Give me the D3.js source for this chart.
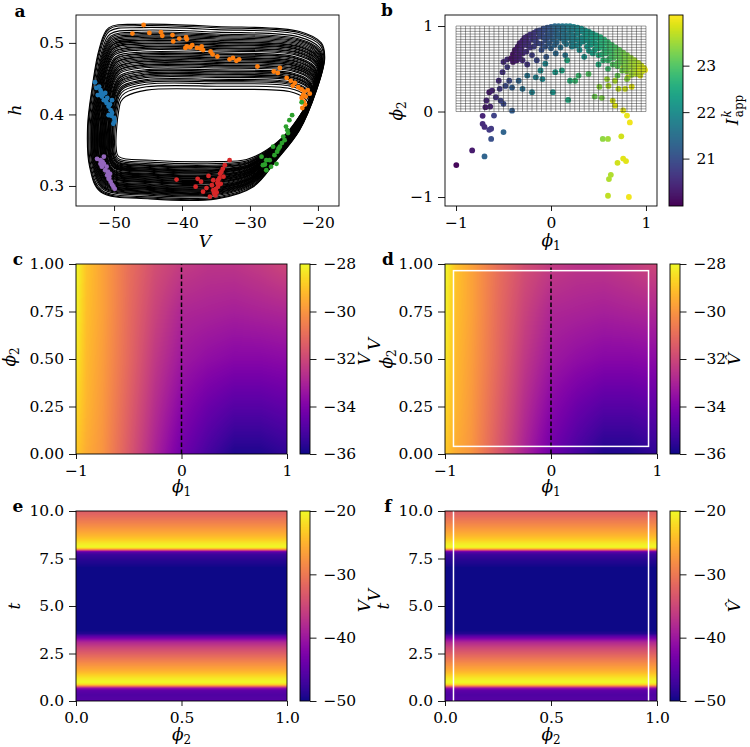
<!DOCTYPE html>
<html><head><meta charset="utf-8">
<script src="https://cdn.jsdelivr.net/npm/d3@7"></script>
<style>
body{margin:0;background:#fff}
svg{display:block}
</style></head><body>
<svg id="fig" width="750" height="747"></svg>
<script>
// ---------------- DATA ----------------
// Panel a: limit-cycle bundle (outer and inner guide loops) and per-loop weights
const aOuterV = [-50.8,-46.1,-34.9,-22.7,-19.5,-19.0,-20.2,-22.7,-26.1,-29.5,-34.9,-44.7,-52.0,-53.6,-53.9,-53.2,-52.2];
const aOuterH = [0.521,0.526,0.523,0.516,0.500,0.479,0.434,0.378,0.336,0.299,0.282,0.282,0.292,0.327,0.383,0.439,0.491];
const aInnerV = [-48.3,-45.2,-34.9,-24.2,-22.0,-21.5,-22.4,-24.6,-27.6,-30.5,-34.9,-44.7,-49.3,-49.7,-49.6,-49.3,-49.0];
const aInnerH = [0.425,0.434,0.435,0.432,0.423,0.416,0.402,0.374,0.350,0.337,0.334,0.336,0.341,0.355,0.383,0.406,0.418];
const aLoopWeights = [0,0.02,0.05,0.09,0.12,0.14,0.16,0.18,0.2,0.22,0.24,0.25,0.27,0.29,0.3,0.32,0.34,0.35,0.37,0.39,0.42,0.44,0.45,0.47,0.49,0.5,0.52,0.54,0.56,0.57,0.59,0.61,0.62,0.64,0.66,0.69,0.71,0.72,0.74,0.76,0.77,0.79,0.81,0.84,0.86,0.88,0.91,0.95,1.0];
// Panel a clusters [V, h]
const aOrange = [[-45.65,0.525],[-47.3,0.513],[-44.8,0.514],[-43.1,0.515],[-42.9,0.510],[-41.4,0.511],[-41.3,0.502],[-40.4,0.506],[-39.4,0.508],[-39.3,0.505],[-39.5,0.493],[-39.3,0.495],[-38.8,0.494],[-37.8,0.493],[-37.3,0.492],[-37.1,0.495],[-35.8,0.488],[-35.5,0.484],[-34.8,0.481],[-33.0,0.477],[-32.5,0.479],[-32.0,0.475],[-31.6,0.477],[-28.9,0.467],[-26.5,0.460],[-25.6,0.465],[-25.9,0.458],[-24.6,0.451],[-24.0,0.447],[-23.4,0.444],[-22.9,0.438],[-22.4,0.435],[-22.0,0.432],[-21.5,0.434],[-22.2,0.427],[-22.4,0.423],[-22.1,0.418],[-22.3,0.409],[-21.8,0.425],[-21.2,0.429],[-38.5,0.497],[-36.9,0.490],[-23.7,0.440],[-21.9,0.414]];
const aBlue = [[-52.8,0.445],[-52.6,0.437],[-52.2,0.439],[-52.0,0.434],[-52.4,0.427],[-51.8,0.425],[-51.5,0.420],[-51.0,0.423],[-50.3,0.420],[-51.1,0.416],[-50.8,0.411],[-50.5,0.406],[-50.3,0.402],[-50.8,0.399],[-50.0,0.395],[-50.1,0.387],[-49.95,0.390],[-52.0,0.427],[-51.3,0.430],[-51.6,0.428],[-50.6,0.414],[-51.9,0.431],[-50.4,0.398],[-51.2,0.419]];
const aPurple = [[-52.5,0.338],[-52.0,0.331],[-51.5,0.341],[-51.8,0.327],[-51.3,0.322],[-51.0,0.315],[-50.8,0.310],[-50.5,0.306],[-50.1,0.299],[-49.9,0.296],[-51.5,0.331],[-52.0,0.336],[-51.1,0.327],[-50.6,0.317],[-50.9,0.320],[-50.3,0.302],[-51.7,0.334],[-50.7,0.312]];
const aRed = [[-40.8,0.309],[-37.7,0.310],[-37.2,0.306],[-38.0,0.299],[-36.1,0.314],[-35.4,0.308],[-36.9,0.292],[-35.9,0.285],[-35.1,0.287],[-34.7,0.299],[-34.4,0.317],[-34.0,0.324],[-33.7,0.329],[-33.0,0.336],[-34.7,0.308],[-34.9,0.291],[-35.4,0.294],[-36.4,0.297],[-34.3,0.303],[-33.9,0.313],[-35.6,0.301],[-35.0,0.296],[-34.5,0.311],[-34.2,0.320],[-35.3,0.290],[-34.8,0.304]];
const aGreen = [[-28.3,0.341],[-28.1,0.329],[-27.6,0.322],[-27.1,0.336],[-26.4,0.343],[-26.1,0.331],[-25.6,0.355],[-24.9,0.364],[-24.4,0.374],[-23.8,0.399],[-24.2,0.392],[-24.7,0.383],[-25.1,0.369],[-26.6,0.355],[-27.6,0.336],[-22.4,0.417],[-26.9,0.327],[-25.3,0.360],[-27.8,0.330],[-26.0,0.348],[-25.8,0.352],[-24.5,0.378]];

// Panel b: [phi1, phi2, I_app]
const bScatter = [[-0.997,-0.626,20.05],[-0.83,-0.455,20.3],[-0.70,-0.525,21.3],[-0.63,-0.32,21.0],[-0.50,-0.24,21.3],[-0.72,-0.05,20.4],[-0.72,-0.144,20.5],[-0.70,-0.18,20.5],[-0.65,-0.214,20.7],[-0.63,-0.20,20.7],[-0.69,0.05,20.3],[-0.64,0.058,20.4],[-0.68,0.13,20.4],[-0.60,-0.047,20.8],[-0.65,0.226,20.3],[-0.62,0.245,20.4],[-0.58,0.167,20.6],[-0.53,0.128,20.8],[-0.50,0.09,20.9],[-0.41,0.01,21.2],[-0.54,0.265,20.7],[-0.55,0.36,20.5],[-0.48,0.30,20.9],[-0.41,0.28,21.2],[-0.44,0.36,20.9],[-0.51,0.46,20.6],[-0.46,0.52,20.7],[-0.50,0.58,20.5],[-0.46,0.61,20.5],[-0.34,0.36,21.3],[-0.30,0.265,21.5],[-0.25,0.42,21.6],[-0.20,0.226,21.8],[-0.16,0.40,21.8],[-0.11,0.48,22.0],[-0.09,0.38,21.9],[-0.06,0.56,21.9],[0.02,0.226,22.1],[0.045,0.46,22.2],[0.115,0.48,22.4],[0.18,0.136,22.5],[0.20,0.36,22.6],[0.255,0.36,22.8],[0.29,0.42,22.8],[0.17,0.60,22.5],[0.395,0.44,23.0],[0.46,0.175,23.2],[0.535,0.16,23.3],[0.51,0.29,23.4],[0.59,0.38,23.5],[0.605,0.30,23.6],[0.675,0.36,23.6],[0.71,0.265,23.7],[0.78,0.265,23.8],[0.85,0.29,23.9],[0.65,0.128,23.8],[0.675,0.07,23.9],[0.76,0.012,23.9],[0.80,-0.047,23.95],[0.83,-0.128,24.0],[0.545,-0.32,23.4],[0.60,-0.32,23.5],[0.74,-0.29,23.8],[0.76,-0.55,23.9],[0.79,-0.58,23.9],[0.70,-0.60,23.8],[0.63,-0.74,23.6],[0.61,-0.79,23.6],[0.60,-0.985,23.7],[0.82,-1.0,24.0],[0.99,0.486,24.0],[0.92,0.52,23.9],[0.94,0.42,23.9],[0.86,0.46,23.8],[0.81,0.40,23.8],[0.76,0.52,23.7]];
const bArch = [[-0.42,0.62,20.2],[-0.38,0.72,20.25],[-0.33,0.8,20.35],[-0.28,0.86,20.45],[-0.22,0.9,20.6],[-0.15,0.94,20.8],[-0.08,0.97,21.0],[0,0.99,21.25],[0.08,1.0,21.5],[0.16,1.0,21.7],[0.24,0.99,21.85],[0.32,0.97,22.05],[0.4,0.93,22.25],[0.48,0.89,22.45],[0.56,0.84,22.7],[0.64,0.78,22.9],[0.72,0.72,23.1],[0.8,0.66,23.35],[0.88,0.6,23.55],[0.95,0.54,23.75],
[-0.4,0.67,20.2],[-0.35,0.76,20.3],[-0.3,0.83,20.4],[-0.25,0.88,20.5],[-0.18,0.92,20.7],[-0.12,0.95,20.9],[-0.04,0.98,21.1],[0.04,1.0,21.4],[0.12,1.0,21.6],[0.2,1.0,21.8],[0.28,0.98,21.95],[0.36,0.95,22.15],[0.44,0.91,22.35],[0.52,0.87,22.6],[0.6,0.81,22.8],[0.68,0.75,23.0],[0.76,0.69,23.25],[0.84,0.63,23.45],[0.92,0.57,23.65],[0.98,0.51,23.85],
[-0.39,0.64,20.2],[-0.36,0.71,20.3],[-0.31,0.79,20.4],[-0.26,0.84,20.5],[-0.2,0.88,20.65],[-0.13,0.92,20.85],[-0.06,0.95,21.05],[0.02,0.96,21.3],[0.1,0.97,21.5],[0.18,0.97,21.75],[0.26,0.96,21.9],[0.34,0.93,22.1],[0.42,0.89,22.3],[0.5,0.85,22.5],[0.58,0.8,22.75],[0.66,0.74,22.95],[0.74,0.68,23.2],[0.82,0.62,23.4],[0.9,0.56,23.6],[0.97,0.5,23.85],
[-0.4,0.58,20.25],[-0.34,0.7,20.35],[-0.28,0.78,20.5],[-0.2,0.84,20.7],[-0.12,0.88,20.9],[-0.04,0.9,21.1],[0.04,0.92,21.35],[0.12,0.93,21.55],[0.2,0.93,21.75],[0.28,0.91,21.95],[0.36,0.88,22.15],[0.44,0.84,22.35],[0.52,0.8,22.6],[0.6,0.74,22.8],[0.68,0.69,23.05],[0.76,0.63,23.25],[0.84,0.57,23.45],[0.92,0.52,23.7],
[-0.37,0.64,20.3],[-0.31,0.73,20.45],[-0.24,0.8,20.6],[-0.16,0.85,20.8],[-0.08,0.87,21.0],[0.0,0.88,21.2],[0.08,0.9,21.45],[0.16,0.9,21.65],[0.24,0.89,21.85],[0.32,0.86,22.05],[0.4,0.82,22.25],[0.48,0.78,22.5],[0.56,0.73,22.7],[0.64,0.67,22.95],[0.72,0.62,23.15],[0.8,0.56,23.4],[0.88,0.51,23.6],[0.96,0.47,23.8],
[-0.36,0.6,20.3],[-0.3,0.68,20.45],[-0.22,0.75,20.65],[-0.14,0.8,20.85],[-0.06,0.83,21.05],[0.02,0.84,21.3],[0.1,0.86,21.5],[0.18,0.86,21.7],[0.26,0.84,21.9],[0.34,0.82,22.1],[0.42,0.78,22.3],[0.5,0.74,22.55],[0.58,0.68,22.8],[0.66,0.63,23.0],[0.74,0.57,23.2],[0.82,0.52,23.45],[0.9,0.47,23.65],
[-0.33,0.62,20.4],[-0.26,0.7,20.55],[-0.18,0.76,20.75],[-0.1,0.79,20.95],[-0.02,0.8,21.2],[0.06,0.81,21.4],[0.14,0.82,21.6],[0.22,0.81,21.8],[0.3,0.79,22.0],[0.38,0.76,22.2],[0.46,0.72,22.45],[0.54,0.67,22.7],[0.62,0.62,22.9],[0.7,0.57,23.1],[0.78,0.52,23.35],[0.86,0.47,23.55],[0.94,0.44,23.75],
[-0.3,0.6,20.5],[-0.2,0.66,20.75],[-0.1,0.72,21.0],[0.0,0.74,21.25],[0.1,0.75,21.5],[0.22,0.76,21.8],[0.3,0.72,22.0],[0.44,0.68,22.35],[0.55,0.6,22.7],[0.65,0.55,23.0],[0.75,0.48,23.25],[0.85,0.43,23.5],
[-0.25,0.55,20.65],[-0.15,0.6,20.9],[-0.05,0.64,21.15],[0.05,0.68,21.4],[0.15,0.66,21.6],[0.35,0.64,22.1],[0.5,0.55,22.55],[0.6,0.5,22.85],[0.7,0.42,23.15],[0.8,0.38,23.4],
[0.0,0.94,21.2],[0.06,0.96,21.4],[0.14,0.96,21.6],[0.22,0.95,21.8],[0.3,0.94,22.0],[-0.1,0.92,20.95],[-0.18,0.87,20.7],[-0.26,0.81,20.5],[0.38,0.91,22.2],[0.46,0.87,22.4],[0.54,0.82,22.65],[0.62,0.77,22.85],[0.7,0.7,23.1],[0.78,0.65,23.3],[0.86,0.59,23.5],
[-0.34,0.66,20.35],[-0.24,0.77,20.6],[-0.16,0.82,20.8],[-0.04,0.86,21.1],[0.06,0.88,21.4],[0.14,0.88,21.6],[0.22,0.87,21.8],[0.3,0.85,22.0],[0.38,0.84,22.2],[0.46,0.8,22.4],[0.54,0.76,22.65],[0.62,0.71,22.85],[0.7,0.65,23.1],[0.78,0.59,23.3],[0.86,0.54,23.55],[0.94,0.49,23.8],
[-0.06,0.76,21.1],[0.04,0.78,21.35],[0.16,0.79,21.65],[0.26,0.77,21.9],[0.4,0.71,22.25],[0.5,0.66,22.55],[0.6,0.6,22.85],[0.7,0.53,23.1],[0.8,0.47,23.4],[0.9,0.44,23.65]];
const bGridCols = 40, bGridRows = 32;

// Panels c,d: V(phi1, phi2)
const cPhi1 = [-1,-0.9,-0.75,-0.5,-0.25,0,0.25,0.5,0.75,1];
const cPhi2 = [0,0.25,0.5,0.75,1];
const cV = [
 [-28.9,-29.5,-30.0,-31.5,-33.0,-34.3,-35.1,-35.8,-35.8,-35.5],
 [-28.6,-29.3,-29.9,-31.3,-32.7,-33.8,-34.4,-34.8,-34.8,-34.6],
 [-28.3,-29.2,-29.8,-31.1,-32.4,-33.3,-33.6,-33.8,-33.8,-33.7],
 [-28.1,-29.1,-29.7,-31.0,-32.1,-32.9,-33.0,-33.1,-33.0,-32.9],
 [-28.0,-29.0,-29.7,-30.9,-31.8,-32.3,-32.5,-32.5,-32.3,-32.0]];
const dV = cV.map(r => r.slice());
const dBox = [-0.92, 0.92, 0.04, 0.965];
// Panels e,f: V(t), constant over phi2
const eT = [0,0.35,0.55,0.65,0.72,0.8,0.88,1.0,1.23,1.6,2.0,2.45,2.8,3.1,3.25,3.4,3.55,3.75,7.0,7.4,7.7,7.85,7.93,8.0,8.1,8.3,8.65,9.1,9.6,10];
const eV = [-45.5,-46,-45,-42,-37,-28,-22,-20,-21.5,-25.4,-28.4,-32,-35,-38.3,-41.6,-45,-49,-50,-50,-48.8,-47.6,-45,-35,-25,-20,-21.2,-24.5,-27.5,-30.5,-32.8];
const fV = eV.slice();
const fLines = [0.04, 0.96];

// tick labels
const aXTicks=[-50,-40,-30,-20], aYTicks=[0.3,0.4,0.5];
const bTicks=[-1,0,1], bCbTicks=[21,22,23];
const cXTicks=[-1,0,1], cYTicks=[0,0.25,0.5,0.75,1], cCbTicks=[-36,-34,-32,-30,-28];
const eXTicks=[0,0.5,1], eYTicks=[0,2.5,5,7.5,10], eCbTicks=[-50,-40,-30,-20];

// ---------------- DRAWING ----------------
const FONT = '"DejaVu Serif", serif';
const PHI = '\u03D5';
const svg = d3.select('#fig');
const tab = {blue:'#1f77b4',orange:'#ff7f0e',green:'#2ca02c',red:'#d62728',purple:'#9467bd'};
let clipId = 0;

function axes(box){
  const g = svg.append('g');
  const id = 'clip'+(clipId++);
  svg.append('defs').append('clipPath').attr('id',id).append('rect')
    .attr('x',box.x0).attr('y',box.y0).attr('width',box.x1-box.x0).attr('height',box.y1-box.y0);
  const inner = g.append('g').attr('clip-path',`url(#${id})`);
  return {g, inner};
}
function frame(g, box){
  g.append('rect').attr('x',box.x0).attr('y',box.y0).attr('width',box.x1-box.x0).attr('height',box.y1-box.y0)
    .attr('fill','none').attr('stroke','#000').attr('stroke-width',0.9);
}
function axis(g, scale, orient, ticks, fmt, pos){
  let ax;
  if(orient==='bottom') ax = d3.axisBottom(scale).tickSize(5).tickPadding(6);
  else if(orient==='left') ax = d3.axisLeft(scale).tickSize(7).tickPadding(5);
  else ax = d3.axisRight(scale).tickSize(6.5).tickPadding(7);
  ax.tickValues(ticks).tickFormat(d3.format(fmt)).tickSizeOuter(0);
  const tr = orient==='bottom' ? `translate(0,${pos})` : `translate(${pos},0)`;
  const gg = g.append('g').attr('transform',tr).call(ax);
  gg.attr('font-family',FONT).attr('font-size',15.5);
  gg.select('.domain').remove();
  gg.selectAll('line').attr('stroke','#000').attr('stroke-width',0.9);
  gg.selectAll('text').attr('fill','#000');
  return gg;
}
function label(x,y,parts,opts={}){
  const g = svg.append('g').attr('transform',`translate(${x},${y})`+(opts.rot!=null?` rotate(${opts.rot})`:''));
  const t = g.append('text').attr('text-anchor',opts.anchor||'middle').attr('font-size',opts.size||17)
    .attr('font-family',FONT).attr('fill','#000');
  if(opts.bold) t.attr('font-weight','bold');
  parts.forEach(p=>{
    const ts = t.append('tspan').text(p.t);
    if(p.it) ts.attr('font-style','italic');
    if(p.size) ts.attr('font-size',p.size);
    if(p.dy!=null) ts.attr('dy',p.dy);
    if(p.dx!=null) ts.attr('dx',p.dx);
  });
  return t;
}
function bilinear(xs, ys, M, x, y){
  const cl=(a,lo,hi)=>Math.max(lo,Math.min(hi,a));
  let i = cl(d3.bisectRight(xs,x)-1,0,xs.length-2);
  let j = cl(d3.bisectRight(ys,y)-1,0,ys.length-2);
  const tx = cl((x-xs[i])/(xs[i+1]-xs[i]),0,1), ty = cl((y-ys[j])/(ys[j+1]-ys[j]),0,1);
  const a=M[j][i], b=M[j][i+1], c=M[j+1][i], d=M[j+1][i+1];
  return (a*(1-tx)+b*tx)*(1-ty)+(c*(1-tx)+d*tx)*ty;
}
function rasterImage(g, x0,y0,w,h, valueAt, color){
  const W=Math.round(w), H=Math.round(h);
  const cv=document.createElement('canvas'); cv.width=W; cv.height=H;
  const ctx=cv.getContext('2d'); const img=ctx.createImageData(W,H);
  for(let j=0;j<H;j++){ for(let i=0;i<W;i++){
    const c=d3.rgb(color(valueAt(x0+i+0.5, y0+j+0.5)));
    const k=(j*W+i)*4; img.data[k]=c.r; img.data[k+1]=c.g; img.data[k+2]=c.b; img.data[k+3]=255;
  }}
  ctx.putImageData(img,0,0);
  g.append('image').attr('href',cv.toDataURL()).attr('x',x0).attr('y',y0).attr('width',W).attr('height',H)
    .attr('preserveAspectRatio','none');
}
function colorbar(box, domain, interp, ticks){
  const s = d3.scaleLinear().domain(domain).range([box.y1,box.y0]);
  const col = d3.scaleSequential(interp).domain(domain);
  const g = svg.append('g');
  rasterImage(g, box.x0, box.y0, box.x1-box.x0, box.y1-box.y0, (px,py)=>s.invert(py), col);
  frame(g, box);
  axis(g, s, 'right', ticks, 'd', box.x1);
  return col;
}

// ---- Panel a ----
(function(){
  const box={x0:76,x1:339,y0:15,y1:206};
  const x=d3.scaleLinear().domain([-55.6,-16.9]).range([box.x0,box.x1]);
  const y=d3.scaleLinear().domain([0.272,0.539]).range([box.y1,box.y0]);
  const {g,inner}=axes(box);
  const line=d3.line().x(d=>x(d[0])).y(d=>y(d[1])).curve(d3.curveCatmullRomClosed.alpha(0.5));
  aLoopWeights.forEach(w=>{
    const pts=aOuterV.map((v,i)=>[v*(1-w)+aInnerV[i]*w, aOuterH[i]*(1-w)+aInnerH[i]*w]);
    inner.append('path').attr('d',line(pts)).attr('fill','none').attr('stroke','#000').attr('stroke-width',1.1);
  });
  [[aBlue,tab.blue],[aOrange,tab.orange],[aGreen,tab.green],[aRed,tab.red],[aPurple,tab.purple]].forEach(([arr,c])=>{
    inner.selectAll(null).data(arr).enter().append('circle')
      .attr('cx',d=>x(d[0])).attr('cy',d=>y(d[1])).attr('r',2.4).attr('fill',c);
  });
  frame(g,box);
  axis(g,x,'bottom',aXTicks,'d',box.y1);
  axis(g,y,'left',aYTicks,'.1f',box.x0);
  label(205,247,[{t:'V',it:true}]);
  label(21,110,[{t:'h',it:true}],{rot:-90});
  label(20,17,[{t:'a'}],{bold:true,size:17});
})();

// ---- Panel b ----
(function(){
  const box={x0:445,x1:657,y0:15,y1:206};
  const x=d3.scaleLinear().domain([-1.116,1.116]).range([box.x0,box.x1]);
  const y=d3.scaleLinear().domain([-1.105,1.129]).range([box.y1,box.y0]);
  const col=colorbar({x0:669,x1:683,y0:15,y1:206},[19.98,24.09],d3.interpolateViridis,bCbTicks);
  const {g,inner}=axes(box);
  const pts=bScatter.concat(bArch);
  inner.selectAll(null).data(pts).enter().append('circle')
    .attr('cx',d=>x(d[0])).attr('cy',d=>y(d[1])).attr('r',2.9).attr('fill',d=>col(d[2]));
  const gl=inner.append('g').attr('stroke','#222').attr('stroke-width',0.6).attr('stroke-opacity',0.75);
  d3.range(bGridCols+1).forEach(i=>{
    const v=-1+2*i/bGridCols;
    gl.append('line').attr('x1',x(v)).attr('x2',x(v)).attr('y1',y(0)).attr('y2',y(1));
  });
  d3.range(bGridRows+1).forEach(j=>{
    const v=j/bGridRows;
    gl.append('line').attr('x1',x(-1)).attr('x2',x(1)).attr('y1',y(0)+(y(1)-y(0))*v).attr('y2',y(0)+(y(1)-y(0))*v);
  });
  frame(g,box);
  axis(g,x,'bottom',bTicks,'d',box.y1);
  axis(g,y,'left',bTicks,'d',box.x0);
  label(551,246,[{t:PHI,it:true},{t:'1',size:12,dy:4}]);
  label(402,111,[{t:PHI,it:true},{t:'2',size:12,dy:4}],{rot:-90});
  label(738,110,[{t:'I',it:true},{t:'k',it:true,size:12,dy:-7,dx:1},{t:'app',size:12,dy:12,dx:-7}],{rot:-90});
  label(387,16,[{t:'b'}],{bold:true,size:17});
})();

// ---- Panels c,d ----
function heatPanel(box, cb, M, isHat, withBox){
  const x=d3.scaleLinear().domain([-1,1]).range([box.x0,box.x1]);
  const y=d3.scaleLinear().domain([0,1]).range([box.y1,box.y0]);
  const col=colorbar(cb,[-36,-28],d3.interpolatePlasma,cCbTicks);
  const {g,inner}=axes(box);
  rasterImage(inner,box.x0,box.y0,box.x1-box.x0,box.y1-box.y0,(px,py)=>bilinear(cPhi1,cPhi2,M,x.invert(px),y.invert(py)),col);
  inner.append('line').attr('x1',x(0)).attr('x2',x(0)).attr('y1',y(0)).attr('y2',y(1))
    .attr('stroke','#000').attr('stroke-width',1.5).attr('stroke-dasharray','4.5,2.5');
  if(withBox){
    inner.append('rect').attr('x',x(dBox[0])).attr('y',y(dBox[3])).attr('width',x(dBox[1])-x(dBox[0]))
      .attr('height',y(dBox[2])-y(dBox[3])).attr('fill','none').attr('stroke','#fff').attr('stroke-width',1.5);
  }
  frame(g,box);
  axis(g,x,'bottom',cXTicks,'d',box.y1);
  axis(g,y,'left',cYTicks,'.2f',box.x0);
  const cx=(box.x0+box.x1)/2, cy=(box.y0+box.y1)/2;
  label(cx,box.y1+38,[{t:PHI,it:true},{t:'1',size:12,dy:4}]);
  label(cb.x1+60,cy,[{t:isHat?'V\u0302':'V',it:true}],{rot:-90});
}
heatPanel({x0:76,x1:287,y0:264,y1:454},{x0:300,x1:310,y0:264,y1:454},cV,false,false);
label(15,357,[{t:PHI,it:true},{t:'2',size:12,dy:4}],{rot:-90});
label(18,265,[{t:'c'}],{bold:true,size:17});
heatPanel({x0:445,x1:657,y0:264,y1:454},{x0:670,x1:680,y0:264,y1:454},dV,true,true);
label(392,359,[{t:PHI,it:true},{t:'2',size:12,dy:4}],{rot:-90});
label(380,344,[{t:'V',it:true}],{rot:-90});
label(388,265,[{t:'d'}],{bold:true,size:17});

// ---- Panels e,f ----
function tPanel(box, cb, vals, isHat, lines){
  const x=d3.scaleLinear().domain([0,1]).range([box.x0,box.x1]);
  const y=d3.scaleLinear().domain([0,10]).range([box.y1,box.y0]);
  const col=colorbar(cb,[-50,-20],d3.interpolatePlasma,eCbTicks);
  const {g,inner}=axes(box);
  const M=vals.map(v=>[v,v]);
  rasterImage(inner,box.x0,box.y0,box.x1-box.x0,box.y1-box.y0,(px,py)=>bilinear([0,1],eT,M,x.invert(px),y.invert(py)),col);
  (lines||[]).forEach(p=>{
    inner.append('line').attr('x1',x(p)).attr('x2',x(p)).attr('y1',y(0)).attr('y2',y(10))
      .attr('stroke','#fff').attr('stroke-width',1.5);
  });
  frame(g,box);
  axis(g,x,'bottom',eXTicks,'.1f',box.y1);
  axis(g,y,'left',eYTicks,'.1f',box.x0);
  const cx=(box.x0+box.x1)/2, cy=(box.y0+box.y1)/2;
  label(cx,box.y1+39,[{t:PHI,it:true},{t:'2',size:12,dy:4}]);
  label(cb.x1+60,cy,[{t:isHat?'V\u0302':'V',it:true}],{rot:-90});
}
tPanel({x0:76,x1:287,y0:511,y1:701},{x0:300,x1:310,y0:511,y1:701},eV,false,null);
label(20,606,[{t:'t',it:true}],{rot:-90});
label(18,512,[{t:'e'}],{bold:true,size:17});
tPanel({x0:445,x1:657,y0:511,y1:701},{x0:670,x1:680,y0:511,y1:701},fV,true,fLines);
label(389,606,[{t:'t',it:true}],{rot:-90});
label(380,595,[{t:'V',it:true}],{rot:-90});
label(388,512,[{t:'f'}],{bold:true,size:17});
</script>
</body></html>
